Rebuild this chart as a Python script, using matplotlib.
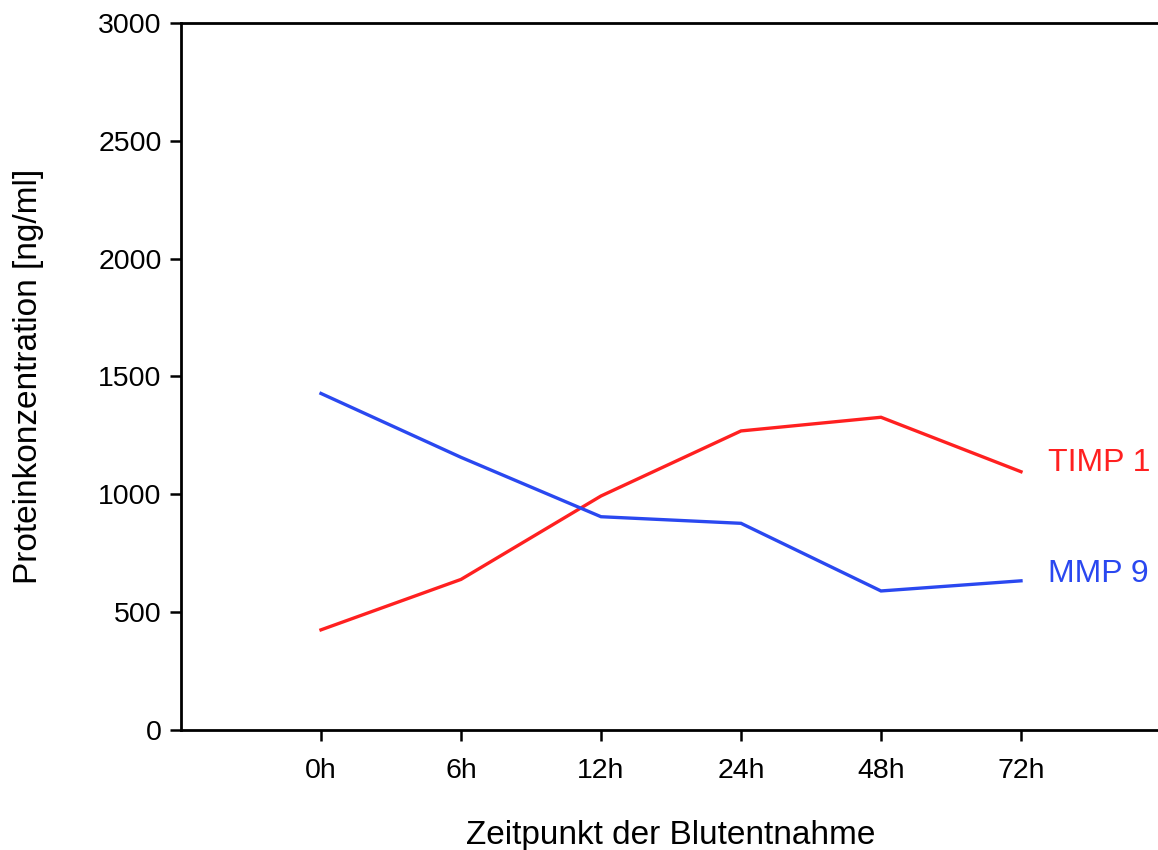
import matplotlib
matplotlib.use("Agg")
import matplotlib.pyplot as plt

categories = ["0h", "6h", "12h", "24h", "48h", "72h"]
timp1 = [425, 639, 993, 1269, 1327, 1096]
mmp9 = [1428, 1157, 905, 877, 590, 633]
yticks = [0, 500, 1000, 1500, 2000, 2500, 3000]

plt.rcParams['font.family'] = ['Liberation Sans', 'DejaVu Sans']

fig = plt.figure(figsize=(11.58, 8.5), dpi=100)
ax = fig.add_axes([181/1158, 1 - 730/850, 980/1158, (730 - 23)/850])

x = list(range(len(categories)))
ax.plot(x, timp1, color='#ff2020', lw=2.4, solid_joinstyle='miter')
ax.plot(x, mmp9, color='#2a48f0', lw=2.4, solid_joinstyle='miter')

ax.set_xlim(-1, 6)
ax.set_ylim(0, 3000)
ax.set_xticks(x)
ax.set_xticklabels(categories)
ax.set_yticks(yticks)
ax.tick_params(axis='both', labelsize=20.5, width=1.8, length=8, direction='out', color='black', pad=6)
ax.tick_params(axis='x', pad=12)
for s in ['left', 'bottom', 'top']:
    ax.spines[s].set_linewidth(2.0)
ax.spines['right'].set_visible(False)

ax.set_xlabel("Zeitpunkt der Blutentnahme", fontsize=24, labelpad=26)
ax.set_ylabel("Proteinkonzentration [ng/ml]", fontsize=24)
ax.yaxis.set_label_coords((44 - 181) / 980, 0.5)

ax.text(5.19, timp1[-1] + 38, "TIMP 1", color='#ff2020', fontsize=23, va='center', ha='left')
ax.text(5.19, mmp9[-1] + 30, "MMP 9", color='#2a48f0', fontsize=23, va='center', ha='left')

fig.savefig("out.png", dpi=100, facecolor='white')
